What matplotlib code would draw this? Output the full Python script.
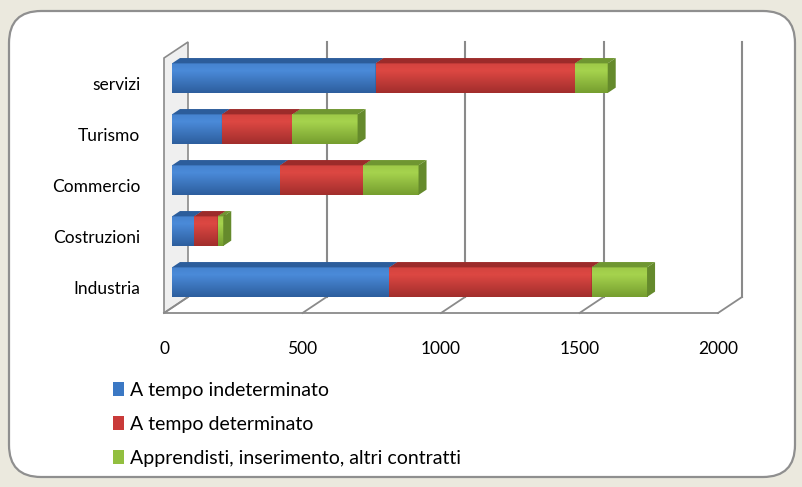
import matplotlib
matplotlib.use("Agg")
import numpy as np
import matplotlib.pyplot as plt
from matplotlib.colors import LinearSegmentedColormap
from matplotlib.patches import Polygon, FancyBboxPatch, Patch

plt.rcParams["font.family"] = ["Lato", "DejaVu Sans"]

categories = ["Industria", "Costruzioni", "Commercio", "Turismo", "servizi"]
indeterminato = [785, 80, 390, 180, 735]
determinato = [730, 85, 300, 255, 720]
apprendisti = [200, 20, 200, 235, 118]
series_names = ["A tempo indeterminato", "A tempo determinato",
                "Apprendisti, inserimento, altri contratti"]
x_ticks = [0, 500, 1000, 1500, 2000]

front_cols = ["#3b78c4", "#c93a39", "#92bf3f"]
light_cols = ["#4a8ad8", "#dc4742", "#a5d24d"]
dark_cols = ["#2d5e9e", "#a22e2c", "#769e2f"]
top_cols = ["#2c5d9b", "#9c2b2a", "#6f9631"]
end_cols = ["#2a5590", "#8e2726", "#658a2c"]

W, H = 803, 487
fig = plt.figure(figsize=(W / 100, H / 100), dpi=100)
fig.patch.set_facecolor("#ebe9de")

# white rounded panel
panel = FancyBboxPatch((9 / W, 10 / H), 786 / W, 466 / H,
                       boxstyle="round,pad=0,rounding_size=0.04",
                       transform=fig.transFigure, facecolor="white",
                       edgecolor="#8f8f8f", linewidth=1.6, zorder=-5,
                       mutation_aspect=W / H)
fig.patches.append(panel)

# front plane of the 3D box
ax_l, ax_r, ax_t, ax_b = 164, 718, 58, 313
ax = fig.add_axes([ax_l / W, 1 - ax_b / H, (ax_r - ax_l) / W, (ax_b - ax_t) / H])
ax.set_zorder(2)
for s in ax.spines.values():
    s.set_visible(False)
ax.patch.set_visible(False)

# depth of the box in data units (24 px right, 16 px up)
dx = 24 * 2000 / (ax_r - ax_l)
dy = 16 * 5 / (ax_b - ax_t)
grid_c = "#8a8a8a"

# left wall
wall = Polygon([(0, -0.5), (0, 4.5), (dx, 4.5 + dy), (dx, -0.5 + dy)],
               closed=True, facecolor="#efefef", edgecolor=grid_c,
               linewidth=1.2, clip_on=False, zorder=1)
ax.add_patch(wall)

# floor and gridlines on the back wall
ax.plot([0, 2000], [-0.5, -0.5], color=grid_c, lw=1.3, clip_on=False, zorder=1)
for t in x_ticks:
    ax.plot([t, t + dx], [-0.5, -0.5 + dy], color=grid_c, lw=1.3,
            clip_on=False, zorder=1)
    if t > 0:
        ax.plot([t + dx, t + dx], [-0.5 + dy, 4.5 + dy], color=grid_c,
                lw=1.5, clip_on=False, zorder=1)

# vertical shading profile for the bar fronts (top light -> bottom dark)
grad = np.concatenate([np.linspace(0.15, 0.0, 8), np.linspace(0.0, 1.0, 24)])
grad = grad[::-1].reshape(-1, 1)  # row 0 is bottom with origin='lower'

# bars, sitting one third into the depth
bh = 0.58
ox, oy = dx / 3, dy / 3
rows = [indeterminato, determinato, apprendisti]
for i, cat in enumerate(categories):
    left = 0
    for k, vals in enumerate(rows):
        v = vals[i]
        x0, y0 = left + ox, i - bh / 2 + oy
        cmap = LinearSegmentedColormap.from_list("c%d" % k, [light_cols[k], dark_cols[k]])
        im = ax.imshow(grad, extent=[x0, x0 + v, y0, y0 + bh], origin="lower",
                       cmap=cmap, vmin=0, vmax=1, aspect="auto",
                       interpolation="bilinear", zorder=3)
        im.set_clip_on(False)
        ax.add_patch(Polygon([(x0, y0 + bh), (x0 + v, y0 + bh),
                              (x0 + v + ox, y0 + bh + oy), (x0 + ox, y0 + bh + oy)],
                             closed=True, facecolor=top_cols[k], edgecolor="none",
                             clip_on=False, zorder=3))
        ax.add_patch(Polygon([(x0 + v, y0), (x0 + v, y0 + bh),
                              (x0 + v + ox, y0 + bh + oy), (x0 + v + ox, y0 + oy)],
                             closed=True, facecolor=end_cols[k], edgecolor="none",
                             clip_on=False, zorder=3))
        left += v

ax.set_xlim(0, 2000)
ax.set_ylim(-0.5, 4.5)
ax.set_yticks(range(len(categories)))
ax.set_yticklabels(categories, fontsize=12.5)
ax.set_xticks(x_ticks)
ax.set_xticklabels([str(t) for t in x_ticks], fontsize=12.5)
ax.tick_params(axis="both", length=0)
ax.tick_params(axis="y", pad=17)
ax.tick_params(axis="x", pad=20)

handles = [Patch(facecolor=c, edgecolor="none") for c in front_cols]
fig.legend(handles, series_names, loc="upper left",
           bbox_to_anchor=(105 / W, 1 - 374 / H), frameon=False,
           fontsize=14, handlelength=0.6, handleheight=0.75,
           handletextpad=0.3, labelspacing=0.87, borderaxespad=0)

fig.savefig("out.png", dpi=100, facecolor=fig.get_facecolor())
